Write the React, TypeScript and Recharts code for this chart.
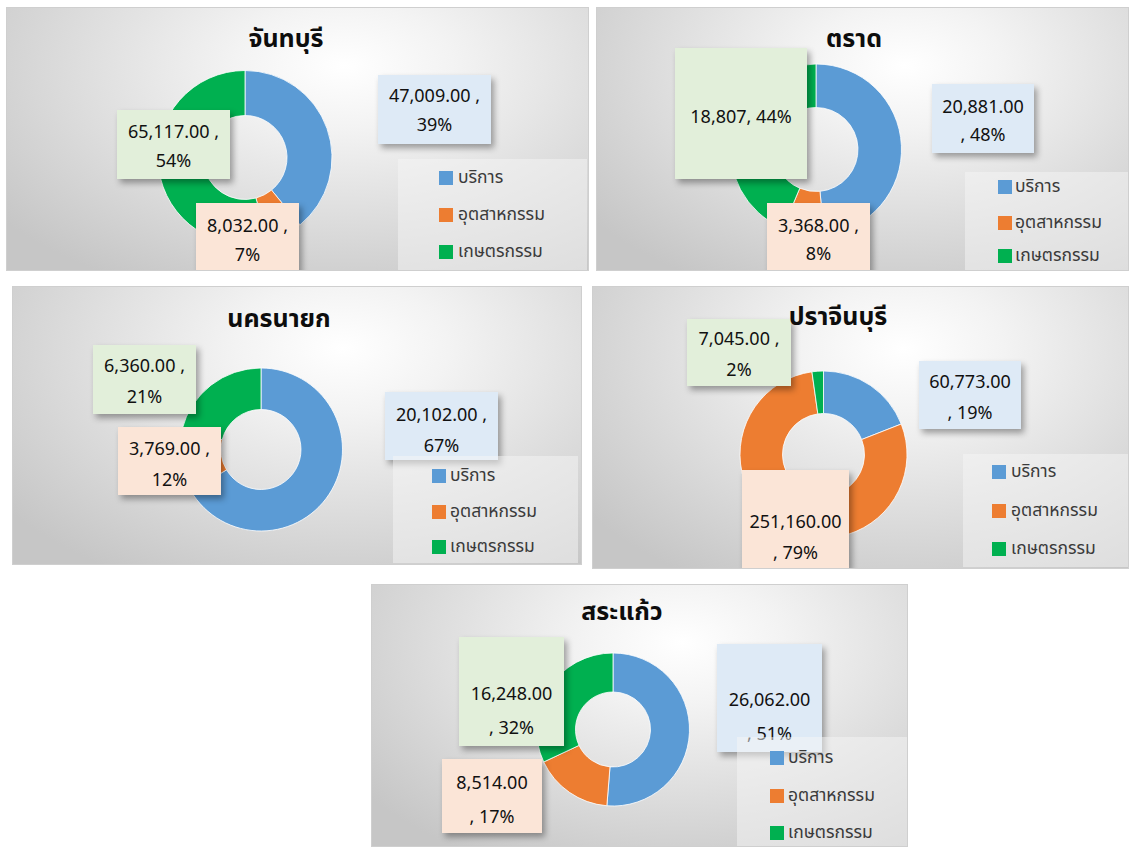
import { PieChart, Pie, Cell, Legend } from 'recharts'

const provinces = ['จันทบุรี', 'ตราด', 'นครนายก', 'ปราจีนบุรี', 'สระแก้ว']
const sectors = ['บริการ', 'อุตสาหกรรม', 'เกษตรกรรม']
const serviceValues = [47009, 20881, 20102, 60773, 26062]
const industryValues = [8032, 3368, 3769, 251160, 8514]
const agricultureValues = [65117, 18807, 6360, 7045, 16248]
// percentages as printed on the labels
const servicePct = ['39%', '48%', '67%', '19%', '51%']
const industryPct = ['7%', '8%', '12%', '79%', '17%']
const agriculturePct = ['54%', '44%', '21%', '2%', '32%']

const COLORS = ['#5b9bd5', '#ed7d31', '#00b050']
const BOX_BG = ['#deeaf6', '#fbe5d7', '#e2efda']
const FONT = "Tahoma, 'Noto Sans Thai', 'Leelawadee UI', 'Noto Sans', sans-serif"

// label line style: A = "value ," / "pct", B = "value" / ", pct", C = one line, no decimals
type Box = { x: number; y: number; w: number; h: number; ty: number; mode: 'A' | 'B' | 'C' }

interface PanelLayout {
    left: number; top: number; w: number; h: number
    titleX: number; titleY: number
    cx: number; cy: number; r: number; ir: number
    gap: number
    boxes: Box[]
    legend: { x: number; y: number; w: number; h: number; rows: number[]; sq: number; tx: number }
}

// page coordinates
const layouts: PanelLayout[] = [
    {
        left: 6, top: 7, w: 583, h: 264, titleX: 285, titleY: 38,
        cx: 245, cy: 157.5, r: 87, ir: 42, gap: 29,
        boxes: [
            { x: 377, y: 74, w: 113, h: 69, ty: 95, mode: 'A' },
            { x: 195, y: 202, w: 103, h: 80, ty: 225, mode: 'A' },
            { x: 116, y: 109, w: 113, h: 69, ty: 131, mode: 'A' },
        ],
        legend: { x: 398, y: 159, w: 189, h: 111, rows: [178, 215, 252], sq: 439, tx: 458 },
    },
    {
        left: 596, top: 7, w: 533, h: 264, titleX: 853, titleY: 38,
        cx: 816, cy: 149.5, r: 85.5, ir: 42, gap: 28,
        boxes: [
            { x: 931, y: 83, w: 102, h: 69, ty: 106, mode: 'B' },
            { x: 766, y: 202, w: 103, h: 80, ty: 225, mode: 'A' },
            { x: 674, y: 47, w: 132, h: 131, ty: 116, mode: 'C' },
        ],
        legend: { x: 965, y: 172, w: 164, h: 99, rows: [187, 223, 256], sq: 998, tx: 1015 },
    },
    {
        left: 12, top: 286, w: 570, h: 279, titleX: 278, titleY: 318,
        cx: 261, cy: 449.5, r: 81.5, ir: 40, gap: 31,
        boxes: [
            { x: 384, y: 391, w: 113, h: 68, ty: 414, mode: 'A' },
            { x: 117, y: 426, w: 103, h: 68, ty: 448, mode: 'A' },
            { x: 92, y: 344, w: 103, h: 69, ty: 365, mode: 'A' },
        ],
        legend: { x: 393, y: 456, w: 185, h: 107, rows: [476, 512, 547], sq: 432, tx: 450 },
    },
    {
        left: 592, top: 286, w: 537, h: 283, titleX: 837, titleY: 316,
        cx: 823.5, cy: 454.5, r: 83.5, ir: 41, gap: 31,
        boxes: [
            { x: 918, y: 360, w: 102, h: 68, ty: 381, mode: 'B' },
            { x: 741, y: 469, w: 107, h: 98, ty: 521, mode: 'B' },
            { x: 686, y: 318, w: 104, h: 67, ty: 338, mode: 'A' },
        ],
        legend: { x: 963, y: 454, w: 165, h: 113, rows: [472, 511, 549], sq: 992, tx: 1011 },
    },
    {
        left: 371, top: 584, w: 537, h: 263, titleX: 621, titleY: 611,
        cx: 613, cy: 729.5, r: 76.5, ir: 37.5, gap: 34,
        boxes: [
            { x: 716, y: 643, w: 105, h: 108, ty: 699, mode: 'B' },
            { x: 441, y: 758, w: 100, h: 74, ty: 782, mode: 'B' },
            { x: 458, y: 636, w: 105, h: 109, ty: 693, mode: 'B' },
        ],
        legend: { x: 737, y: 737, w: 171, h: 112, rows: [758, 796, 833], sq: 770, tx: 788 },
    },
]

const fmt2 = (v: number) =>
    v.toLocaleString('en-US', { minimumFractionDigits: 2, maximumFractionDigits: 2 })
const fmt0 = (v: number) => v.toLocaleString('en-US')

function labelLines(mode: Box['mode'], v: number, pct: string) {
    if (mode === 'A') return [`${fmt2(v)} ,`, pct]
    if (mode === 'B') return [fmt2(v), `, ${pct}`]
    return [`${fmt0(v)}, ${pct}`]
}

function ProvinceDonut({ idx }: { idx: number }) {
    const L = layouts[idx]
    const data = sectors.map((name, i) => ({
        name,
        value: [serviceValues, industryValues, agricultureValues][i][idx],
        pct: [servicePct, industryPct, agriculturePct][i][idx],
    }))

    const renderLabel = (props: any) => {
        const i = props.index
        const b = L.boxes[i]
        const x = b.x - L.left
        const y = b.y - L.top
        const lines = labelLines(b.mode, data[i].value, data[i].pct)
        return (
            <g key={`lbl-${i}`}>
                <rect
                    x={x} y={y} width={b.w} height={b.h} fill={BOX_BG[i]}
                    style={{ filter: 'drop-shadow(3px 4px 3px rgba(0,0,0,0.35))' }}
                />
                {lines.map((t, k) => (
                    <text
                        key={k}
                        x={x + b.w / 2}
                        y={b.ty - L.top + k * L.gap}
                        textAnchor="middle"
                        dominantBaseline="central"
                        fontFamily={FONT}
                        fontSize={18}
                        fill="#111111"
                    >
                        {t}
                    </text>
                ))}
            </g>
        )
    }

    const lg = L.legend
    const renderLegend = () => (
        <div style={{ position: 'relative', width: lg.w, height: lg.h, background: 'rgba(246,246,246,0.5)' }}>
            {sectors.map((s, i) => (
                <div key={s}>
                    <div style={{
                        position: 'absolute', left: lg.sq - lg.x, top: lg.rows[i] - lg.y - 7,
                        width: 14, height: 14, background: COLORS[i],
                    }} />
                    <div style={{
                        position: 'absolute', left: lg.tx - lg.x, top: lg.rows[i] - lg.y - 12,
                        height: 24, lineHeight: '24px', fontFamily: FONT, fontSize: 17.5, color: '#3a3a3a',
                        whiteSpace: 'nowrap',
                    }}>{s}</div>
                </div>
            ))}
        </div>
    )

    return (
        <div style={{
            position: 'absolute', left: L.left, top: L.top, width: L.w, height: L.h,
            boxSizing: 'border-box', border: '1px solid #cfcfcf', overflow: 'hidden',
            background: 'radial-gradient(ellipse 75% 95% at 58% 22%, #ffffff 0%, #f3f3f3 25%, #dedede 60%, #c6c6c6 100%)',
        }}>
            <div style={{
                position: 'absolute', left: L.titleX - L.left - 150, top: L.titleY - L.top - 17,
                width: 300, height: 34, lineHeight: '34px', textAlign: 'center',
                fontFamily: FONT, fontSize: 25, fontWeight: 'bold', color: '#0d0d0d', zIndex: 2,
            }}>
                {provinces[idx]}
            </div>
            <PieChart width={L.w - 2} height={L.h - 2} margin={{ top: 0, right: 0, bottom: 0, left: 0 }}>
                <Pie
                    data={data}
                    dataKey="value"
                    nameKey="name"
                    cx={L.cx - L.left - 1}
                    cy={L.cy - L.top - 1}
                    outerRadius={L.r}
                    innerRadius={L.ir}
                    startAngle={90}
                    endAngle={-270}
                    stroke="#ffffff"
                    strokeWidth={0.8}
                    label={renderLabel}
                    labelLine={false}
                    isAnimationActive={false}
                >
                    {data.map((d, i) => <Cell key={d.name} fill={COLORS[i]} />)}
                </Pie>
                <Legend
                    layout="vertical"
                    align="right"
                    verticalAlign="middle"
                    content={renderLegend}
                    wrapperStyle={{ left: lg.x - L.left - 1, top: lg.y - L.top - 1, width: lg.w, height: lg.h, right: 'auto', bottom: 'auto' }}
                />
            </PieChart>
        </div>
    )
}

export default function App() {
    return (
        <div style={{ position: 'absolute', left: 0, top: 0, width: 1131, height: 847, background: '#ffffff' }}>
            {provinces.map((p, i) => <ProvinceDonut key={p} idx={i} />)}
        </div>
    )
}
